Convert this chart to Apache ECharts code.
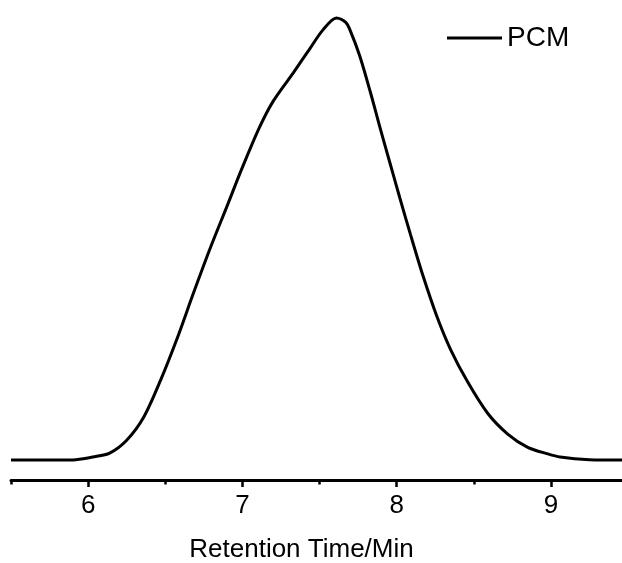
<!DOCTYPE html>
<html>
<head>
<meta charset="utf-8">
<style>
  html, body { margin: 0; padding: 0; background: #fff; }
  #chart { width: 622px; height: 563px; }
</style>
<script src="https://cdn.jsdelivr.net/npm/echarts@6/dist/echarts.min.js"></script>
</head>
<body>
<div id="chart"></div>
<script>
// retention time (min) and normalised detector signal
var retentionTime = [5.5, 5.82, 5.92, 6.03, 6.14, 6.25, 6.36, 6.47, 6.58, 6.68, 6.79, 6.9, 7.0, 7.11, 7.2, 7.33, 7.44, 7.52, 7.61, 7.67, 7.7, 7.76, 7.83, 7.89, 7.96, 8.02, 8.09, 8.17, 8.26, 8.35, 8.46, 8.59, 8.72, 8.85, 8.98, 9.06, 9.25, 9.46, 9.5];
var signal = [0, 0, 0.001, 0.007, 0.016, 0.045, 0.097, 0.181, 0.278, 0.375, 0.478, 0.574, 0.662, 0.752, 0.812, 0.876, 0.932, 0.972, 1.0, 0.99, 0.971, 0.915, 0.832, 0.755, 0.668, 0.594, 0.51, 0.418, 0.326, 0.25, 0.177, 0.106, 0.059, 0.029, 0.014, 0.007, 0.001, 0, 0];
var majorTicks = [6, 7, 8, 9];
var minorTicks = [5.5, 6.5, 7.5, 8.5, 9.5];

var seriesData = [];
for (var i = 0; i < retentionTime.length; i++) {
    seriesData.push([retentionTime[i], signal[i]]);
}

var chart = echarts.init(document.getElementById('chart'));
var font = '"Liberation Sans", Arial, sans-serif';

var option = {
    animation: false,
    backgroundColor: '#fff',
    legend: {
        left: 447,
        top: 24,
        padding: 0,
        icon: 'rect',
        itemWidth: 55,
        itemHeight: 3,
        textStyle: { color: '#000', fontSize: 28, fontFamily: font },
        data: ['PCM']
    },
    grid: { left: 11, right: -6, top: 18, bottom: 83, outerBoundsMode: 'none' },
    xAxis: [
        {
            type: 'value',
            min: 5.5,
            max: 9.5,
            name: 'Retention Time/Min',
            nameLocation: 'middle',
            nameGap: 57,
            nameTextStyle: { color: '#000', fontSize: 26, fontFamily: font, padding: [0, 36, 0, 0] },
            axisLine: { onZero: false, lineStyle: { color: '#000', width: 3 } },
            axisTick: { customValues: majorTicks, length: 7, lineStyle: { color: '#000', width: 2.5 } },
            axisLabel: { customValues: majorTicks, color: '#000', fontSize: 26, fontFamily: font, margin: 13 },
            splitLine: { show: false }
        },
        {
            type: 'value',
            min: 5.5,
            max: 9.5,
            position: 'bottom',
            axisLine: { show: false, onZero: false },
            axisTick: { customValues: minorTicks, length: 4.5, lineStyle: { color: '#000', width: 2.5 } },
            axisLabel: { show: false },
            splitLine: { show: false }
        }
    ],
    yAxis: {
        type: 'value',
        min: -0.045,
        max: 1.0,
        show: false
    },
    series: [
        {
            name: 'PCM',
            type: 'line',
            data: seriesData,
            smooth: 0.3,
            showSymbol: false,
            symbol: 'none',
            clip: false,
            lineStyle: { color: '#000', width: 3 },
            itemStyle: { color: '#000' }
        }
    ]
};

chart.setOption(option);
</script>
</body>
</html>
